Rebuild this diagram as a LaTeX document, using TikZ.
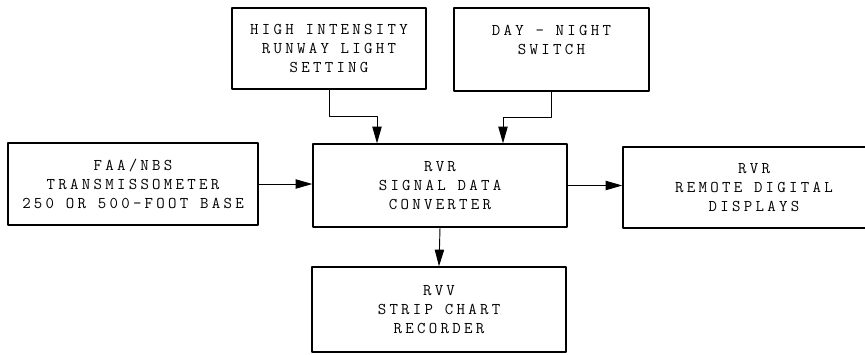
\documentclass[tikz,border=0pt]{standalone}
\usepackage{fontspec}
\setmonofont{Latin Modern Mono}[LetterSpace=20]
\usetikzlibrary{arrows.meta}

\begin{document}
\begin{tikzpicture}[line cap=round,line join=round,x=0.03cm,y=-0.03cm,
		block/.style={draw,line width=1.2pt,align=center,inner sep=0pt,
			font=\ttfamily\fontsize{14}{16.2}\selectfont},
		flow/.style={line width=0.8pt,-{Triangle[length=5mm,width=2.8mm]}}]
		\useasboundingbox (0,0) rectangle (865,354);
		% blocks
		\node[block,minimum width=5.82cm,minimum height=2.43cm] (light) at (329,48.5) {HIGH INTENSITY\\RUNWAY LIGHT\\SETTING};
		\node[block,minimum width=5.85cm,minimum height=2.49cm] (daynight) at (551.5,49.5) {DAY - NIGHT\\SWITCH\\\mbox{}};
		\node[block,minimum width=7.5cm,minimum height=2.46cm] (faa) at (133,184) {FAA/NBS\\TRANSMISSOMETER\\250 OR 500-FOOT BASE};
		\node[block,minimum width=7.62cm,minimum height=2.49cm] (conv) at (440,185.5) {RVR\\SIGNAL DATA\\CONVERTER};
		\node[block,minimum width=7.86cm,minimum height=2.43cm] (remote) at (754,187.5) {RVR\\REMOTE DIGITAL\\DISPLAYS};
		\node[block,minimum width=7.62cm,minimum height=2.55cm] (strip) at (439,309.5) {RVV\\STRIP CHART\\RECORDER};
		% connectors
		\coordinate (lbend) at (377,116);
		\coordinate (dbend) at (503,117);
		\draw[flow] (light.south) |- (lbend) -- (lbend |- conv.north);
		\draw[flow] (daynight.south) |- (dbend) -- (dbend |- conv.north);
		\draw[flow] (faa.east) -- (faa.east -| conv.west);
		\draw[flow] (conv.east) -- (conv.east -| remote.west);
		\draw[flow] (conv.south) -- (strip.north);
	\end{tikzpicture}
\end{document}
